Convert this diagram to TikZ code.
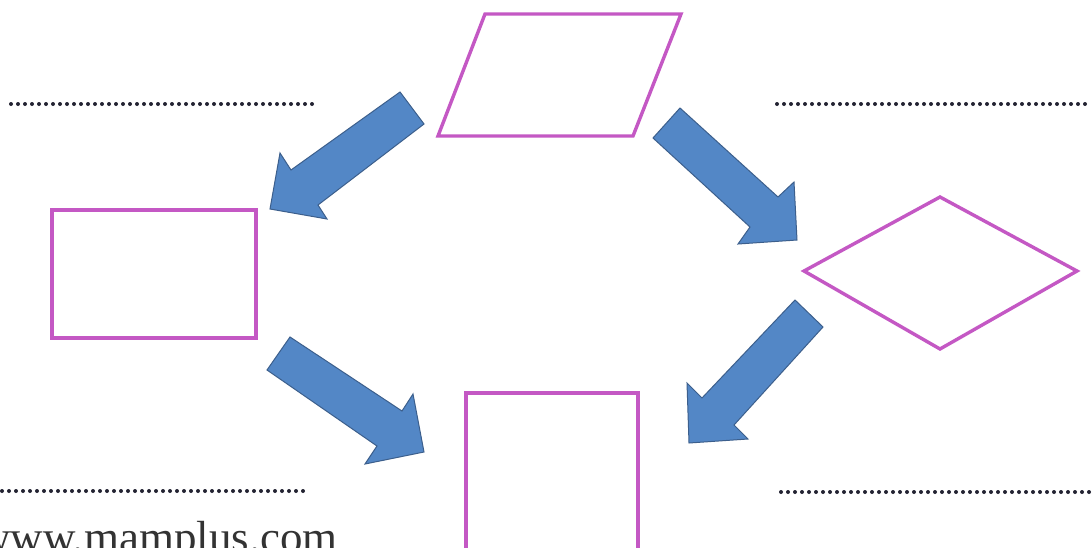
\documentclass[tikz,border=0pt]{standalone}
\usepackage{fontspec}
\setmainfont{Liberation Serif}
\definecolor{shapepink}{RGB}{196,88,196}
\definecolor{arrowblue}{RGB}{83,135,198}
\definecolor{arrowedge}{RGB}{60,95,140}
\definecolor{dotgray}{RGB}{35,35,50}
\tikzset{
  outline/.style={draw=shapepink, line width=3.4pt, line join=miter},
  blockarrow/.style={fill=arrowblue, draw=arrowedge, line width=1pt, line join=miter},
  dotline/.style={draw=dotgray, line width=4pt, line cap=round, dash pattern=on 0pt off 7pt},
}
\begin{document}
\begin{tikzpicture}[x=1pt,y=-1pt]
\useasboundingbox (0,0) rectangle (1092,547);
\clip (0,0) rectangle (1092,547);
\fill[white] (0,0) rectangle (1092,547);
% dotted lines
\coordinate (d1a) at (11,104); \coordinate (d1b) at (315,104);
\coordinate (d2a) at (777,104); \coordinate (d2b) at (1092,104);
\coordinate (d3a) at (2,491); \coordinate (d3b) at (309,491);
\coordinate (d4a) at (781,492); \coordinate (d4b) at (1092,492);
\draw[dotline] (d1a) -- (d1b);
\draw[dotline] (d2a) -- (d2b);
\draw[dotline] (d3a) -- (d3b);
\draw[dotline] (d4a) -- (d4b);
% shapes
\draw[outline] (485,14) -- (681,14) -- (633,136) -- (438,136) -- cycle;
\draw[outline] (52,210) rectangle (256,338);
\draw[outline] (804,271) -- (940,197) -- (1077,271) -- (940,349) -- cycle;
\draw[outline] (466,393) rectangle (638,550);
% block arrows
\draw[blockarrow] (400,92) -- (424,124) -- (318,205) -- (327,219) -- (270,209) -- (280,153) -- (291,170) -- cycle;
\draw[blockarrow] (680,108) -- (653,138) -- (750,227) -- (738,244) -- (797,240) -- (794,182) -- (778,197) -- cycle;
\draw[blockarrow] (795,300) -- (823,327) -- (734,425) -- (748,439) -- (689,443) -- (687,383) -- (702,398) -- cycle;
\draw[blockarrow] (290,337) -- (267,370) -- (377,446) -- (365,464) -- (424,452) -- (413,394) -- (402,411) -- cycle;
% watermark text
\node[anchor=base west, inner sep=0pt, text=black!80, font=\fontsize{45}{45}\selectfont] (wm) at (-22,552) {www.mamplus.com};
\end{tikzpicture}
\end{document}
